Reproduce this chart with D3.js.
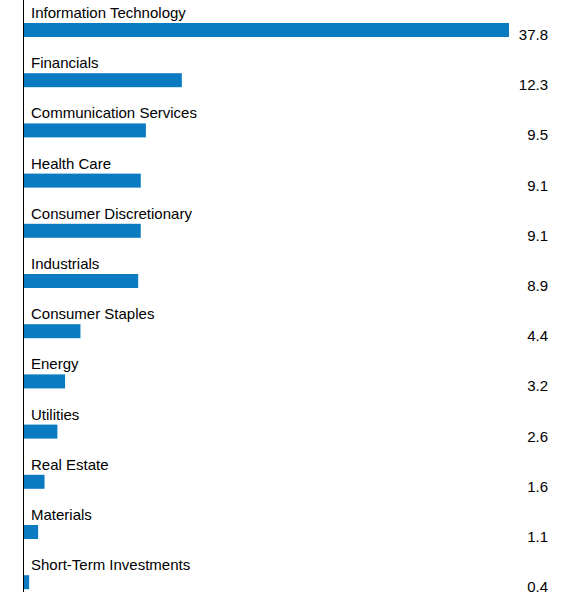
<!DOCTYPE html>
<html><head><meta charset="utf-8">
<script src="https://cdn.jsdelivr.net/npm/d3@7"></script>
<style>body{margin:0;background:#fff}text{font-family:"Liberation Sans",Arial,sans-serif;font-size:15px;fill:#000}</style>
</head><body><svg id="c" width="573" height="598"></svg>
<script>
const categories=["Information Technology","Financials","Communication Services","Health Care","Consumer Discretionary","Industrials","Consumer Staples","Energy","Utilities","Real Estate","Materials","Short-Term Investments"];
const values=[37.8,12.3,9.5,9.1,9.1,8.9,4.4,3.2,2.6,1.6,1.1,0.4];
const labels=["37.8","12.3","9.5","9.1","9.1","8.9","4.4","3.2","2.6","1.6","1.1","0.4"];
const svg=d3.select("#c");
const x=d3.scaleLinear().domain([0,37.8]).range([24,509]);
const y=d3.scaleBand().domain(categories).range([0,602.4]).padding(0);
const g=svg.selectAll("g.r").data(categories).join("g").attr("class","r").attr("transform",d=>`translate(0,${y(d)})`);
g.append("text").attr("x",31).attr("y",18).text(d=>d);
g.append("rect").attr("x",x(0)).attr("y",23).attr("height",14).attr("width",(d,i)=>x(values[i])-x(0)).attr("fill","#0a7bc1");
g.append("text").attr("x",548).attr("y",40).attr("text-anchor","end").text((d,i)=>labels[i]);
svg.append("line").attr("x1",23.5).attr("x2",23.5).attr("y1",0).attr("y2",592).attr("stroke","#000").attr("stroke-width",1);
</script></body></html>
